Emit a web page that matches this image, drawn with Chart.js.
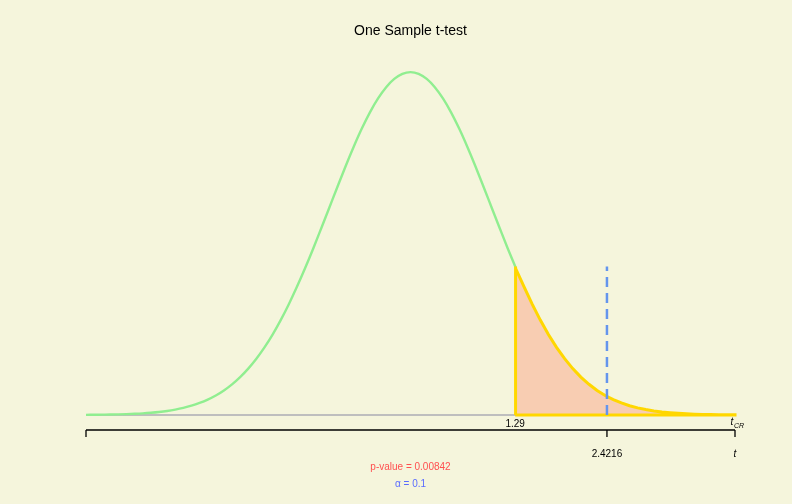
<!DOCTYPE html>
<html>
<head>
<meta charset="utf-8">
<script src="https://cdn.jsdelivr.net/npm/chart.js@4.4.0/dist/chart.umd.min.js"></script>
<style>
html,body{margin:0;padding:0;background:#F5F5DC;}
#wrap{width:792px;height:504px;}
</style>
</head>
<body>
<div id="wrap"><canvas id="c" width="792" height="504"></canvas></div>
<script>
// Data
const tValues = [-4.0,-3.9,-3.8,-3.7,-3.6,-3.5,-3.4,-3.3,-3.2,-3.1,-3.0,-2.9,-2.8,-2.7,-2.6,-2.5,-2.4,-2.3,-2.2,-2.1,-2.0,-1.9,-1.8,-1.7,-1.6,-1.5,-1.4,-1.3,-1.2,-1.1,-1.0,-0.9,-0.8,-0.7,-0.6,-0.5,-0.4,-0.3,-0.2,-0.1,0.0,0.1,0.2,0.3,0.4,0.5,0.6,0.7,0.8,0.9,1.0,1.1,1.2,1.3,1.4,1.5,1.6,1.7,1.8,1.9,2.0,2.1,2.2,2.3,2.4,2.5,2.6,2.7,2.8,2.9,3.0,3.1,3.2,3.3,3.4,3.5,3.6,3.7,3.8,3.9,4.0];
const density = [0.0002,0.0003,0.0004,0.0005,0.0007,0.0010,0.0014,0.0019,0.0026,0.0035,0.0047,0.0063,0.0083,0.0108,0.0140,0.0179,0.0227,0.0286,0.0357,0.0441,0.0540,0.0655,0.0787,0.0936,0.1104,0.1289,0.1491,0.1707,0.1935,0.2173,0.2414,0.2656,0.2894,0.3121,0.3332,0.3521,0.3683,0.3814,0.3910,0.3969,0.3989,0.3969,0.3910,0.3814,0.3683,0.3521,0.3332,0.3121,0.2894,0.2656,0.2414,0.2173,0.1935,0.1707,0.1491,0.1289,0.1104,0.0936,0.0787,0.0655,0.0540,0.0441,0.0357,0.0286,0.0227,0.0179,0.0140,0.0108,0.0083,0.0063,0.0047,0.0035,0.0026,0.0019,0.0014,0.0010,0.0007,0.0005,0.0004,0.0003,0.0002];
const tCritical = 1.29;
const densityAtCritical = 0.1729;
const tStatistic = 2.4216;
const axisTicks = [-4, 2.4216, 4];
const pValue = 0.00842;
const alpha = 0.1;
const titleText = "One Sample t-test";

const curvePts = tValues.map((x,i)=>({x:x,y:density[i]}));
const tailPts = [{x:tCritical,y:densityAtCritical}];
tValues.forEach((x,i)=>{ if (x > tCritical) tailPts.push({x:x,y:density[i]}); });

const textPlugin = {
  id:'texts',
  beforeDatasetsDraw(chart){
    const ctx = chart.ctx;
    const xs = chart.scales.x, ys = chart.scales.y;
    const y0 = ys.getPixelForValue(0);
    ctx.save();
    ctx.fillStyle = '#F8CDB2';
    ctx.beginPath();
    ctx.moveTo(xs.getPixelForValue(tailPts[0].x), y0);
    tailPts.forEach(p=>ctx.lineTo(xs.getPixelForValue(p.x), ys.getPixelForValue(p.y)));
    ctx.lineTo(xs.getPixelForValue(tailPts[tailPts.length-1].x), y0);
    ctx.closePath();
    ctx.fill();
    ctx.restore();
  },
  afterDraw(chart){
    const ctx = chart.ctx;
    const xs = chart.scales.x, ys = chart.scales.y;
    const ca = chart.chartArea;
    ctx.save();
    ctx.fillStyle = '#000';
    ctx.font = '14px "Liberation Sans", Arial, sans-serif';
    ctx.textAlign = 'center';
    ctx.textBaseline = 'middle';
    ctx.fillText(titleText, (ca.left+ca.right)/2, 31);
    const axY = ys.getPixelForValue(0) + 15;
    ctx.strokeStyle = '#000';
    ctx.lineWidth = 1.3;
    ctx.beginPath();
    ctx.moveTo(xs.getPixelForValue(axisTicks[0]), axY);
    ctx.lineTo(xs.getPixelForValue(axisTicks[axisTicks.length-1]), axY);
    axisTicks.forEach(v=>{
      const px = xs.getPixelForValue(v);
      ctx.moveTo(px, axY);
      ctx.lineTo(px, axY+7);
    });
    ctx.stroke();
    ctx.font = '10px "Liberation Sans", Arial, sans-serif';
    ctx.fillText(String(tCritical), xs.getPixelForValue(tCritical), ys.getPixelForValue(0)+9);
    ctx.fillText(String(tStatistic), xs.getPixelForValue(tStatistic), axY+24);
    ctx.font = 'italic 10px "Liberation Sans", Arial, sans-serif';
    const rx = xs.getPixelForValue(axisTicks[axisTicks.length-1]);
    ctx.fillText('t', rx, axY+24);
    ctx.fillText('t', rx-3, ys.getPixelForValue(0)+7);
    ctx.font = 'italic 7px "Liberation Sans", Arial, sans-serif';
    ctx.fillText('CR', rx+4, ys.getPixelForValue(0)+11);
    ctx.font = '10px "Liberation Sans", Arial, sans-serif';
    ctx.fillStyle = '#FF5050';
    const cx = (ca.left+ca.right)/2;
    ctx.fillText('p-value = ' + pValue, cx, 467);
    ctx.fillStyle = '#5A6CFF';
    ctx.fillText('\u03B1 = ' + alpha, cx, 484);
    ctx.restore();
  }
};

new Chart(document.getElementById('c'), {
  type:'scatter',
  data:{
    datasets:[
      {data:[{x:axisTicks[0],y:0},{x:axisTicks[axisTicks.length-1],y:0}], showLine:true, borderColor:'#BEBEBE', borderWidth:2, pointRadius:0, clip:false, order:4},
      {data:curvePts.filter(p=>p.x<=tCritical+0.05), showLine:true, borderColor:'#90EE90', borderWidth:2.4, pointRadius:0, cubicInterpolationMode:'monotone', clip:false, order:3},
      {data:[{x:tCritical,y:0}].concat(tailPts,[{x:tailPts[tailPts.length-1].x,y:0},{x:tCritical,y:0}]), showLine:true, borderColor:'#FFD700', borderWidth:3, pointRadius:0, tension:0, clip:false, order:2},
      {data:[{x:tStatistic,y:0},{x:tStatistic,y:densityAtCritical}], showLine:true, borderColor:'#6495ED', borderWidth:2.5, borderDash:[10,6], pointRadius:0, clip:false, order:1}
    ]
  },
  options:{
    responsive:false,
    animation:false,
    devicePixelRatio:1,
    layout:{padding:{left:86,right:57,top:54,bottom:89}},
    plugins:{legend:{display:false},tooltip:{enabled:false},title:{display:false}},
    scales:{
      x:{type:'linear',min:-4,max:4,display:false},
      y:{type:'linear',min:0,max:0.42,display:false}
    }
  },
  plugins:[textPlugin]
});
</script>
</body>
</html>
